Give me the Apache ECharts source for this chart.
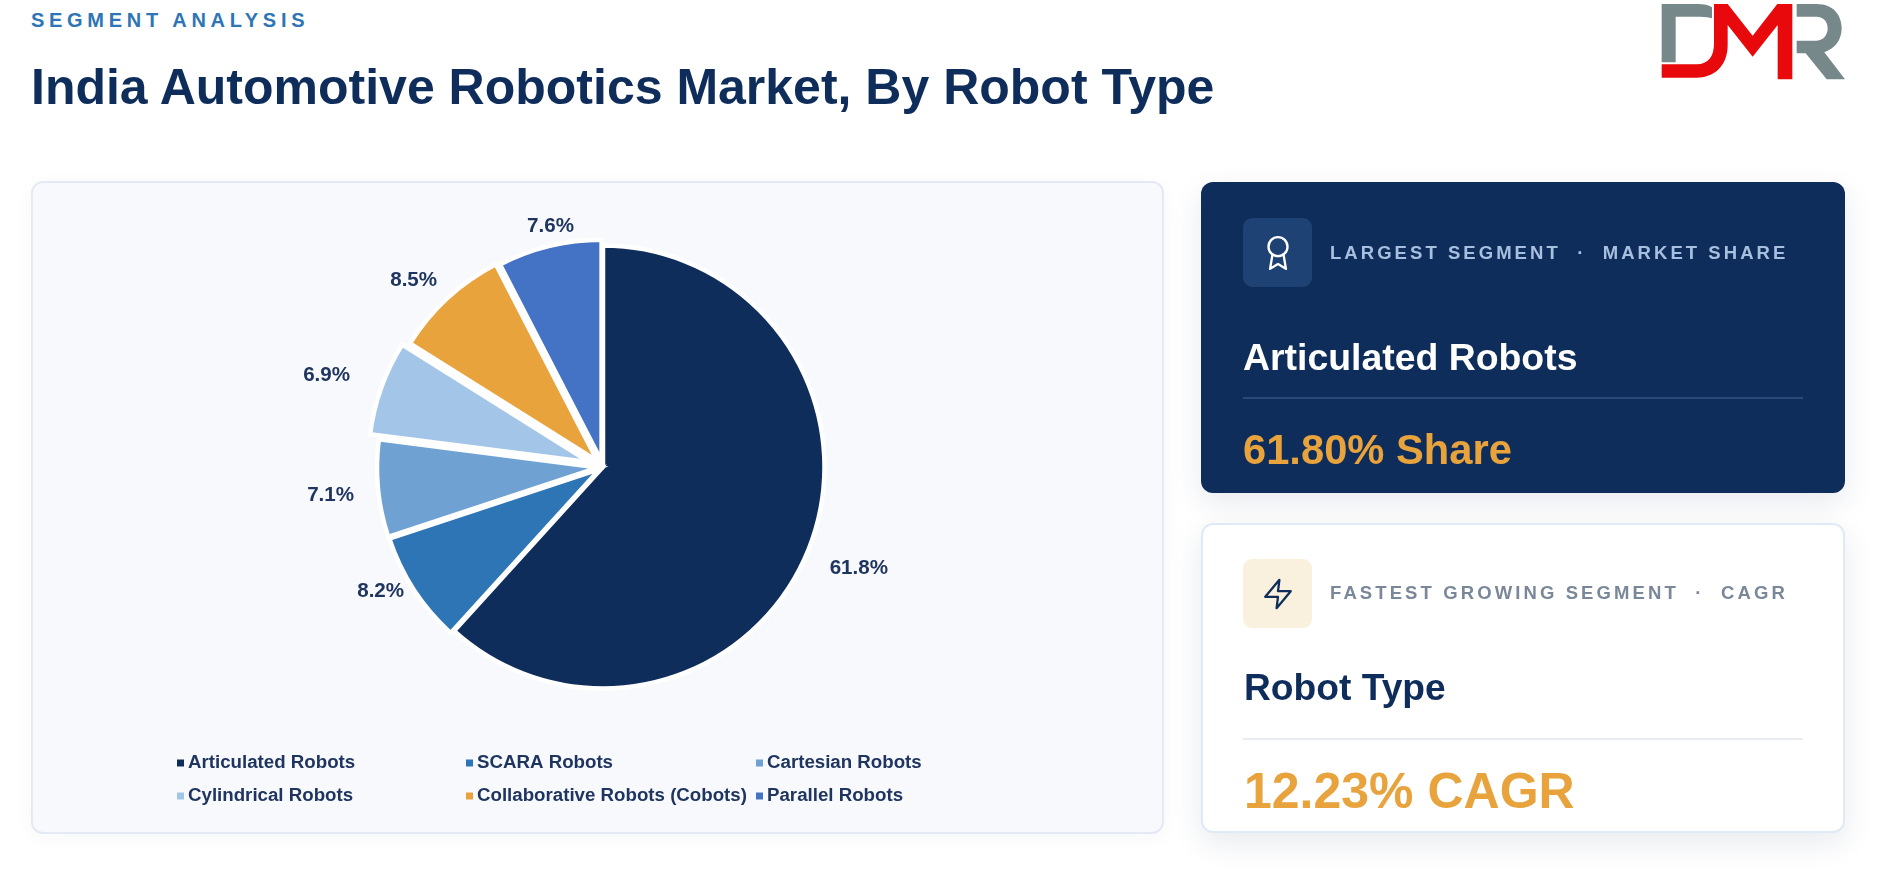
<!DOCTYPE html>
<html><head><meta charset="utf-8">
<script src="https://cdn.jsdelivr.net/npm/echarts@6/dist/echarts.min.js"></script>
<style>
html,body{margin:0;padding:0;width:1883px;height:870px;background:#fff;overflow:hidden;font-family:"Liberation Sans",Arial,sans-serif;}
.abs{position:absolute;white-space:nowrap;font-weight:700;line-height:1;}
#eyebrow{left:31px;top:10px;font-size:20px;letter-spacing:4.7px;color:#2e75b6;}
#title{left:31px;top:62px;font-size:50px;color:#0f2d5a;}
#panel{position:absolute;left:31px;top:181px;width:1133px;height:653px;box-sizing:border-box;background:#f7f9fd;border:2px solid #e3e9f5;border-radius:12px;box-shadow:0 4px 20px rgba(17,46,92,.04);}
#chart{position:absolute;left:31px;top:182px;width:1133px;height:650px;}
.card{position:absolute;left:1201px;width:644px;box-sizing:border-box;border-radius:12px;box-shadow:0 10px 30px rgba(17,46,92,.10);}
#c1{top:182px;height:311px;background:#0f2d5a;}
#c2{top:523px;height:310px;background:#fff;border:2px solid #e0eaf6;}
.ico{position:absolute;left:1243px;width:69px;height:69px;border-radius:9px;display:flex;align-items:center;justify-content:center;}
.rule{position:absolute;left:1243px;width:560px;}
.lab{left:1330px;font-size:18.5px;letter-spacing:3.05px;}
</style></head><body>
<div class="abs" id="eyebrow">SEGMENT ANALYSIS</div>
<div class="abs" id="title">India Automotive Robotics Market, By Robot Type</div>

<svg style="position:absolute;left:1640px;top:0" width="243" height="100" viewBox="0 0 729 300">
<path fill="#76888a" d="M65 12H175Q200 12 216 22V55Q205 50 180 50H107V187H65Z"/>
<path fill="#e8090c" d="M65 193H170C205 193 222 170 222 130V12H263L338 107L412 12H457V238H413V75L338 170L263 75V135C263 200 220 233 170 233H65Z"/>
<path fill="#76888a" d="M470 12H530C580 12 605 45 605 85C605 120 585 145 553 157L615 238H560L497 160H470V122H530C550 122 563 105 563 85C563 65 550 50 530 50H470Z"/>
</svg>

<div id="panel"></div>
<div id="chart"></div>

<div class="card" id="c1"></div>
<div class="ico" style="top:218px;background:#1d4273">
<svg width="38" height="38" viewBox="0 0 24 24" fill="none" stroke="#fff" stroke-width="1.5" stroke-linecap="round" stroke-linejoin="round"><circle cx="12" cy="8" r="6"/><path d="M15.477 12.89 17 22l-5-3-5 3 1.523-9.11"/></svg>
</div>
<div class="abs lab" style="top:244px;color:#a8c0e0">LARGEST SEGMENT &nbsp;·&nbsp; MARKET SHARE</div>
<div class="abs" style="left:1243px;top:339px;font-size:37.4px;color:#fff">Articulated Robots</div>
<div class="rule" style="top:397px;height:2px;background:#2a4a7c"></div>
<div class="abs" style="left:1243px;top:429px;font-size:41.7px;color:#e8a33d">61.80% Share</div>

<div class="card" id="c2"></div>
<div class="ico" style="top:559px;background:#faf0de">
<svg width="34" height="34" viewBox="0 0 24 24" fill="none" stroke="#0f2d5a" stroke-width="1.6" stroke-linecap="round" stroke-linejoin="round"><polygon points="13 2 3 14 12 14 11 22 21 10 12 10 13 2"/></svg>
</div>
<div class="abs lab" style="top:584px;color:#7a8799;letter-spacing:3.1px">FASTEST GROWING SEGMENT &nbsp;·&nbsp; CAGR</div>
<div class="abs" style="left:1244px;top:669px;font-size:37.2px;color:#0f2d5a">Robot Type</div>
<div class="rule" style="top:738px;height:2px;background:#e8ecf0"></div>
<div class="abs" style="left:1244px;top:766px;font-size:50px;color:#e8a33d">12.23% CAGR</div>

<script>
const categories = ['Articulated Robots','SCARA Robots','Cartesian Robots','Cylindrical Robots','Collaborative Robots (Cobots)','Parallel Robots'];
const shares = [61.8,8.2,7.1,6.9,8.5,7.6];
const colors = ['#0f2d5a','#2e75b6','#6fa1d2','#a3c6e8','#e8a33d','#4472c4'];
const pullOut = [0,4,4.5,14,8,6];
const labelNudgeX = [2,7,-5,-13,4,33];
const labelNudgeY = [16,-6,5,-8,-7,-6];
const legendColumns = [[0,3],[1,4],[2,5]];
const legendLeft = [146,435,725];

const chart = echarts.init(document.getElementById('chart'), null, {renderer:'canvas'});
const txt = '#1f3560', font = '"Liberation Sans", Arial, sans-serif';
const border = {borderColor:'#fff', borderWidth:4.5, borderJoin:'miter'};
const series = categories.map((_, i) => ({
  type:'pie', center:[572,285], radius:[0,221.5], startAngle:90, clockwise:true,
  animation:false, silent:true, avoidLabelOverlap:false, selectedMode:'multiple',
  selectedOffset:pullOut[i], z:2+i,
  labelLayout:{dx:labelNudgeX[i], dy:labelNudgeY[i]},
  select:{itemStyle:{...border, color:colors[i]}},
  data:categories.map((name,j)=>({
    name, value:shares[j], selected:j===i,
    itemStyle:{...border, color:colors[j], opacity:j===i?1:0},
    label:{show:j===i, position:'outside', formatter:shares[j].toFixed(1)+'%', color:txt, fontFamily:font, fontWeight:700, fontSize:20.6},
    labelLine:{show:false, length:14, length2:0}
  }))
}));

const legend = legendColumns.map((col,k)=>({
  orient:'vertical', left:legendLeft[k], top:570, selectedMode:false,
  icon:'rect', itemWidth:7, itemHeight:7, itemGap:11, padding:0,
  textStyle:{color:txt, fontFamily:font, fontWeight:700, fontSize:18.7, lineHeight:22, padding:[0,0,0,-1]},
  data:col.map(j=>({name:categories[j], itemStyle:{color:colors[j], opacity:1, borderWidth:0}}))
}));
chart.setOption({backgroundColor:'transparent', animation:false, legend, series});
</script>
</body></html>
